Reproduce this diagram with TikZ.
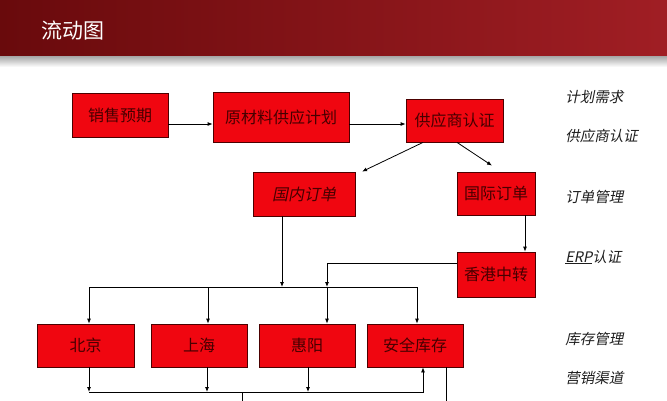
\documentclass[tikz,border=0pt]{standalone}
\usepackage{fontspec}
\setmainfont{Noto Sans CJK SC}
\newfontfamily\slantfont[FakeSlant=0.2]{Noto Sans CJK SC}
\usetikzlibrary{arrows.meta}
\definecolor{boxred}{RGB}{240,6,16}
\definecolor{boxtext}{RGB}{70,0,0}
\definecolor{barleft}{RGB}{105,10,12}
\definecolor{barright}{RGB}{160,30,36}
\definecolor{labeltext}{RGB}{30,30,30}

\begin{document}
\begin{tikzpicture}[x=1pt, y=-1pt, line width=0.8pt,
        >={Latex[length=5pt,width=4pt]}]
        \tikzstyle{box} = [draw=black!70!red, fill=boxred, text=boxtext,
            inner sep=0pt, minimum height=43pt, font=\fontsize{16}{16}\selectfont]
        \tikzstyle{side} = [anchor=west, text=labeltext, inner sep=0pt,
            font=\slantfont\fontsize{14.5}{14.5}\selectfont]
        \useasboundingbox (0,0) rectangle (667,400);
        \fill[white] (0,0) rectangle (667,400);

        % title bar
        \shade[left color=barleft, right color=barright] (0,0) rectangle (667,56);
        \shade[top color=black!35, bottom color=white] (0,56) rectangle (667,67);
        \node[anchor=west, text=white, font=\fontsize{21}{21}\selectfont] (title) at (38,31) {流动图};

        % boxes
        \node[box, minimum width=96pt, minimum height=44pt] (sale) at (120,115) {销售预期};
        \node[box, minimum width=136pt, minimum height=50pt] (plan) at (281,117) {原材料供应计划};
        \node[box, minimum width=97pt] (cert) at (454.5,120.5) {供应商认证};
        \node[box, minimum width=102pt, minimum height=44pt] (dom) at (304,194) {\slantfont 国内订单};
        \node[box, minimum width=78pt] (intl) at (496,193.5) {国际订单};
        \node[box, minimum width=78pt, minimum height=45pt] (hk) at (496,274.5) {香港中转};
        \node[box, minimum width=97pt] (bj) at (85.5,345.5) {北京};
        \node[box, minimum width=96pt] (sh) at (199,345.5) {上海};
        \node[box, minimum width=96pt] (hy) at (307,345.5) {惠阳};
        \node[box, minimum width=96pt] (safe) at (415,345.5) {安全库存};

        % upper flow
        \draw[->] ([yshift=-9pt]sale.east) -- ([yshift=-7pt]plan.west);
        \draw[->] ([yshift=-7pt]plan.east) -- ([yshift=-3.5pt]cert.west);
        \draw[->] ([xshift=-31.5pt]cert.south) -- ([xshift=58pt]dom.north);
        \draw[->] ([xshift=2.5pt]cert.south) -- ([xshift=-4pt,yshift=6pt]intl.north);
        \draw[->] ([xshift=29pt]intl.south) -- ([xshift=29pt]hk.north);

        % distribution bus
        \coordinate (busA) at (89,287);
        \coordinate (busB) at (417,287);
        \coordinate (busD) at (282,287);
        \coordinate (busH) at (327,287);
        \draw (busA) -- (busB);
        \draw[->] ([xshift=-22pt]dom.south) -- (busD);
        \draw[->] ([yshift=11.5pt]hk.west) -| (busH);
        \draw[->] (busA) -- (bj.north -| busA);
        \draw[->] (busA -| sh.north) ++(9,0) -- ([xshift=9pt]sh.north);
        \draw[->] (busH) -- (hy.north -| busH);
        \draw[->] (busB) -- (safe.north -| busB);

        % return bus
        \coordinate (retA) at (89,392);
        \coordinate (retB) at (207,392);
        \coordinate (retC) at (308,392);
        \coordinate (retD) at (423,392);
        \coordinate (retE) at (242,392);
        \draw[->] (bj.south -| retA) -- (retA);
        \draw[->] (sh.south -| retB) -- (retB);
        \draw[->] (hy.south -| retC) -- (retC);
        \draw[->] (retA) -- (retD) -- (safe.south -| retD);
        \draw (retE) -- ++(0,12);
        \draw ([xshift=31pt]safe.south) -- ++(0,40);

        % stage labels
        \node[side] (l1) at (565,97) {计划需求};
        \node[side] (l2) at (565,136) {供应商认证};
        \node[side] (l3) at (565,197) {订单管理};
        \node[side] (l4) at (565,257) {\underline{ERP}认证};
        \node[side] (l5) at (565,339) {库存管理};
        \node[side] (l6) at (565,378) {营销渠道};
\end{tikzpicture}
\end{document}
